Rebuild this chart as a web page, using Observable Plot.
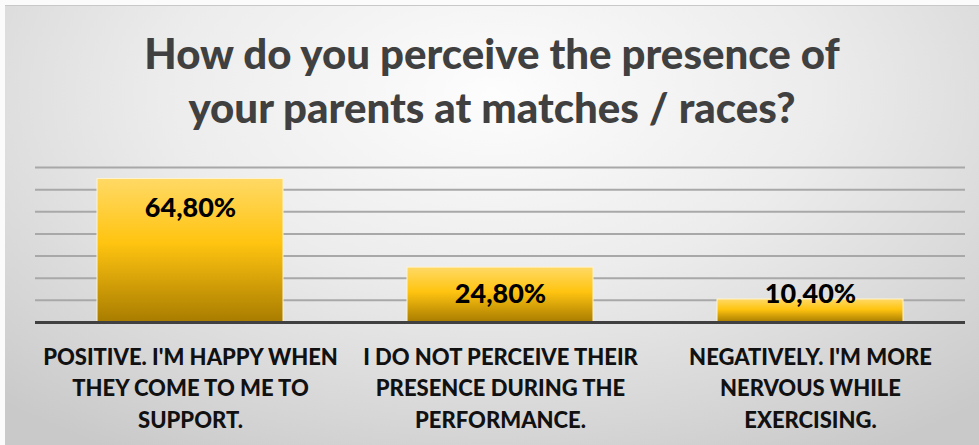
<!DOCTYPE html>
<html>
<head>
<meta charset="utf-8">
<script src="https://cdn.jsdelivr.net/npm/d3@7"></script>
<script src="https://cdn.jsdelivr.net/npm/@observablehq/plot@0.6"></script>
<style>
  html, body { margin: 0; padding: 0; background: #fbfbfb; }
  #wrap { position: relative; width: 979px; height: 445px; overflow: hidden; background: #fbfbfb; }
  #panel {
    position: absolute; left: 5px; top: 5px; width: 974px; height: 440px;
    background: radial-gradient(ellipse 75% 95% at 50% 20%, #fdfdfd 0%, #ececec 45%, #d6d6d6 80%, #c9c9c9 100%);
    border-top: 1px solid #c8c8c8;
    box-sizing: border-box;
  }
  #title {
    height: 140px; box-sizing: border-box; padding-top: 20px;
    font-family: Lato, "Open Sans", sans-serif; font-weight: 900;
    font-size: 42px; line-height: 54px; color: #404040; text-align: center;
  }
  #chart svg { display: block; }
</style>
</head>
<body>
<div id="wrap">
  <div id="panel">
    <div id="title">How do you perceive the presence of<br>your parents at matches / races?</div>
    <div id="chart"></div>
  </div>
</div>
<script>
const categories = [
  "POSITIVE. I'M HAPPY WHEN\nTHEY COME TO ME TO\nSUPPORT.",
  "I DO NOT PERCEIVE THEIR\nPRESENCE DURING THE\nPERFORMANCE.",
  "NEGATIVELY. I'M MORE\nNERVOUS WHILE\nEXERCISING."
];
const values = [64.8, 24.8, 10.4];
const valueLabels = ["64,80%", "24,80%", "10,40%"];
const gridTicks = [10, 20, 30, 40, 50, 60, 70];

const data = categories.map((c, i) => ({category: c, value: values[i], label: valueLabels[i]}));

const defs = () => {
  const d = d3.create("svg:defs");
  const g = d.append("linearGradient").attr("id", "barGrad")
    .attr("x1", 0).attr("y1", 0).attr("x2", 0).attr("y2", 1);
  g.append("stop").attr("offset", "0%").attr("stop-color", "#ffd965");
  g.append("stop").attr("offset", "45%").attr("stop-color", "#ffc410");
  g.append("stop").attr("offset", "100%").attr("stop-color", "#a87c00");
  return d.node();
};

const chart = Plot.plot({
  width: 974,
  height: 300,
  marginLeft: 30,
  marginRight: 14,
  marginTop: 21,
  marginBottom: 124,
  style: {background: "transparent", overflow: "visible"},
  x: {domain: categories, paddingInner: 0.4, paddingOuter: 0.2, label: null},
  y: {domain: [0, 70], axis: null},
  marks: [
    defs,
    Plot.ruleY(gridTicks, {stroke: "#a8a8a8", strokeWidth: 2}),
    Plot.barY(data, {x: "category", y: "value", fill: "url(#barGrad)", stroke: "#fff3cf", strokeWidth: 1}),
    Plot.ruleY([0], {stroke: "#404040", strokeWidth: 3}),
    Plot.text(data, {
      x: "category", y: d => Math.max(d.value - 17, 8.7), text: "label",
      lineAnchor: "bottom", fontSize: 27, fontWeight: 900, fill: "#000",
      fontFamily: "Lato, sans-serif"
    }),
    Plot.axisX({
      tickSize: 0, tickPadding: 20, fontSize: 22, lineHeight: 1.43,
      fontWeight: 900, fill: "#111", fontFamily: "Lato, sans-serif", label: null
    })
  ]
});
document.getElementById("chart").appendChild(chart);
</script>
</body>
</html>
